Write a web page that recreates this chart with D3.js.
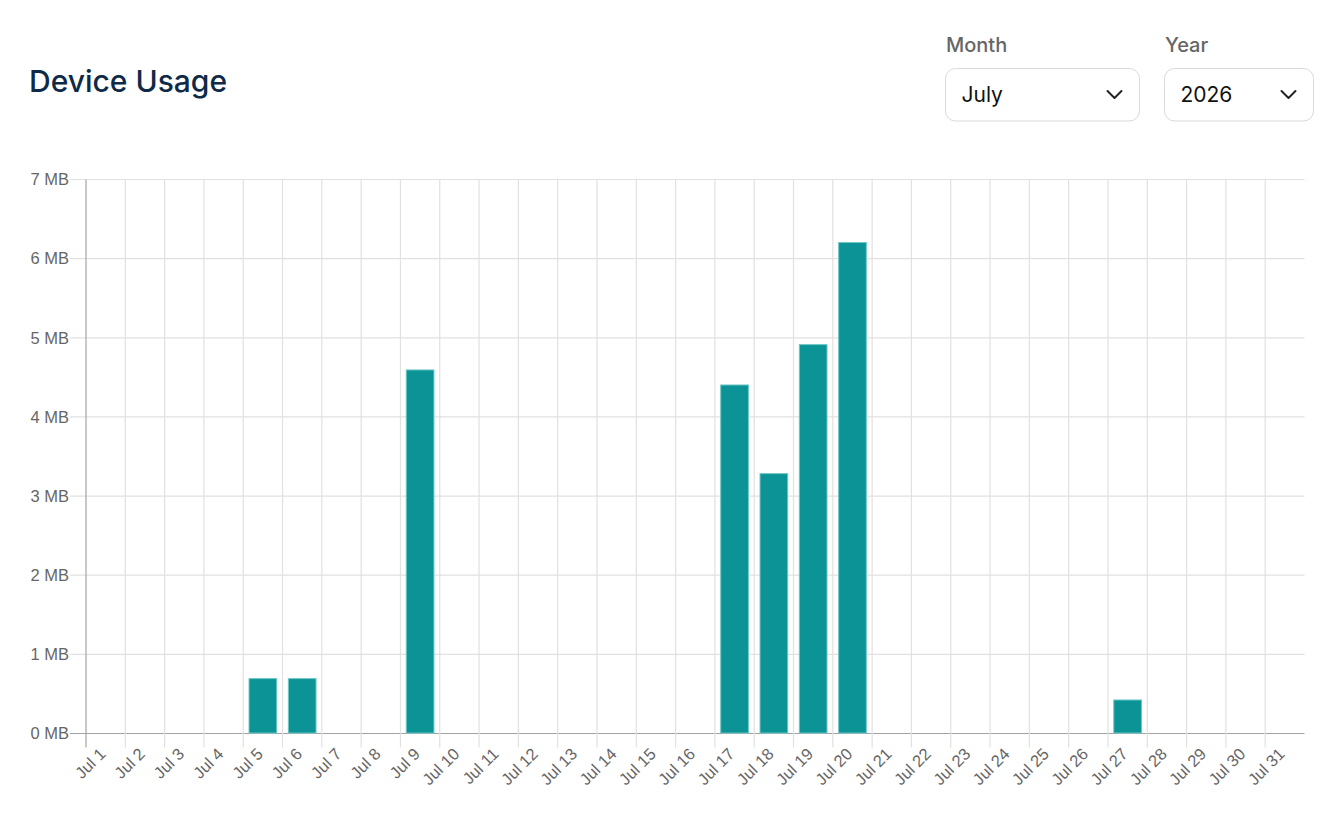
<!DOCTYPE html>
<html>
<head>
<meta charset="utf-8">
<script src="https://cdn.jsdelivr.net/npm/d3@7"></script>
<style>
  html, body { margin: 0; padding: 0; background: #fff; }
  #viz { width: 1338px; height: 826px; }
</style>
</head>
<body>
<div id="viz"></div>
<script>
// July 2026, usage per day in MB (zero where no bar is drawn)
var days = d3.range(1, 32);
var usageDays = [5, 6, 9, 17, 18, 19, 20, 27];
var usageMB = [0.70, 0.70, 4.60, 4.41, 3.29, 4.92, 6.21, 0.43];
var yTicks = [0, 1, 2, 3, 4, 5, 6, 7];
var monthOptions = ["July"];
var yearOptions = ["2026"];

var W = 1338, H = 826;
var plotLeft = 86, plotRight = 1304.5, plotTop = 179.5, plotBottom = 733.5;

var usage = days.map(function(d) {
    var i = usageDays.indexOf(d);
    return {day: d, mb: i < 0 ? 0 : usageMB[i]};
});

function main() {
    var svg = d3.select("#viz").append("svg")
        .attr("width", W)
        .attr("height", H);

    // header
    svg.append("text")
        .attr("x", 29).attr("y", 92)
        .attr("font-family", "Inter")
        .attr("font-weight", 500)
        .attr("font-size", 30)
        .attr("fill", "#0e2a47")
        .text("Device Usage");

    add_select(svg, "Month", monthOptions[0], 945.5, 194);
    add_select(svg, "Year", yearOptions[0], 1164.5, 149);

    // scales: one unit per day, Jul 1 00:00 to Aug 1 00:00
    var x = d3.scaleLinear().domain([1, 32]).range([plotLeft, plotRight]);
    var y = d3.scaleLinear().domain([0, 7]).range([plotBottom, plotTop]);
    var step = x(2) - x(1);

    var grid = svg.append("g").attr("id", "grid");
    grid.selectAll("line.h")
        .data(yTicks)
        .enter().append("line")
        .attr("x1", 70).attr("x2", plotRight)
        .attr("y1", function(d) { return y(d); })
        .attr("y2", function(d) { return y(d); })
        .attr("stroke", function(d) { return d == 0 ? "#a3a3a3" : "#e1e1e1"; })
        .attr("stroke-width", 1.2);
    grid.selectAll("line.v")
        .data(days)
        .enter().append("line")
        .attr("x1", function(d) { return x(d); })
        .attr("x2", function(d) { return x(d); })
        .attr("y1", plotTop).attr("y2", 747.5)
        .attr("stroke", function(d) { return d == 1 ? "#a3a3a3" : "#e1e1e1"; })
        .attr("stroke-width", 1.2);

    // bars
    var bw = step * 0.73;
    svg.append("g").attr("id", "bars")
        .selectAll("rect")
        .data(usage.filter(function(d) { return d.mb > 0; }))
        .enter().append("rect")
        .attr("x", function(d) { return x(d.day + 0.5) - bw / 2 + 0.5; })
        .attr("y", function(d) { return y(d.mb) + 0.5; })
        .attr("width", bw - 1)
        .attr("height", function(d) { return y(0) - y(d.mb) - 1; })
        .attr("fill", "#0b9395")
        .attr("stroke", "#6ec7c7")
        .attr("stroke-width", 1);

    // y labels
    svg.append("g").attr("id", "ylabels")
        .selectAll("text")
        .data(yTicks)
        .enter().append("text")
        .attr("x", 69)
        .attr("y", function(d) { return y(d); })
        .attr("dy", "0.35em")
        .attr("text-anchor", "end")
        .attr("font-family", "Liberation Sans, Arial, sans-serif")
        .attr("font-size", 16.5)
        .attr("fill", "#666")
        .text(function(d) { return d + " MB"; });

    // x labels, rotated; text ends near the bar centre
    svg.append("g").attr("id", "xlabels")
        .selectAll("text")
        .data(days)
        .enter().append("text")
        .attr("transform", function(d) {
            return "translate(" + (x(d + 0.5) + 1) + ",755) rotate(-45)";
        })
        .attr("text-anchor", "end")
        .attr("font-family", "Liberation Sans, Arial, sans-serif")
        .attr("font-size", 16.5)
        .attr("fill", "#666")
        .text(function(d) { return "Jul " + d; });
}

function add_select(svg, label, value, x0, w) {
    var g = svg.append("g");
    g.append("text")
        .attr("x", x0 + 0.5).attr("y", 52)
        .attr("font-family", "Inter")
        .attr("font-weight", 500)
        .attr("font-size", 20)
        .attr("fill", "#666")
        .text(label);
    g.append("rect")
        .attr("x", x0).attr("y", 68.5)
        .attr("width", w).attr("height", 52.5)
        .attr("rx", 10).attr("ry", 10)
        .attr("fill", "#fff")
        .attr("stroke", "#d9d9d9")
        .attr("stroke-width", 1);
    g.append("text")
        .attr("x", x0 + 16).attr("y", 102)
        .attr("font-family", "Inter")
        .attr("font-size", 21)
        .attr("fill", "#111")
        .text(value);
    var cx = x0 + w - 25;
    g.append("path")
        .attr("d", "M" + (cx - 7) + ",91 L" + cx + ",98 L" + (cx + 7) + ",91")
        .attr("fill", "none")
        .attr("stroke", "#222")
        .attr("stroke-width", 2)
        .attr("stroke-linecap", "round")
        .attr("stroke-linejoin", "round");
}

main();
</script>
</body>
</html>
